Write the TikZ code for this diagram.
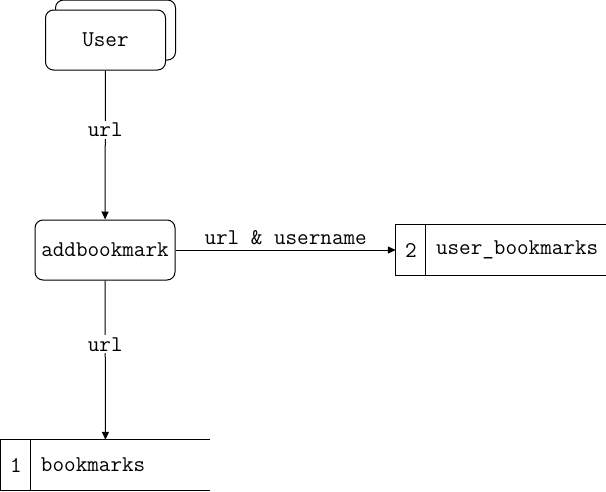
\documentclass[tikz,border=0pt]{standalone}
\usetikzlibrary{positioning, arrows.meta}

\begin{document}
\begin{tikzpicture}[x=1pt, y=-1pt,
      font=\ttfamily\fontsize{22.5}{26}\selectfont,
      proc/.style={draw, line width=1pt, rounded corners=8pt, fill=white,
                   minimum width=120pt, minimum height=60pt, inner sep=0pt},
      store/.style={minimum height=50pt, inner sep=0pt},
      edge/.style={line width=1pt},
      arr/.style={-{Triangle[length=8pt, width=7pt]}, line width=1pt},
      lbl/.style={fill=white, inner sep=2pt}]
    \useasboundingbox (0,0) rectangle (606,491);
    % external entity (stacked)
    \node[proc] (userback) at (115.5,30) {};
    \node[proc] (user) at (105.5,40) {User};
    % process
    \node[proc, minimum width=140pt] (add) at (105,250) {addbookmark};
    % data stores
    \node[store, minimum width=209pt] (bm) at (105.5,465) {};
    \node[store, minimum width=210pt] (ub) at (501,250) {};
    \draw[edge] (bm.north east) -- (bm.north west) -- (bm.south west) -- (bm.south east);
    \draw[edge] ([xshift=30pt]bm.north west) -- ([xshift=30pt]bm.south west);
    \draw[edge] (ub.north east) -- (ub.north west) -- (ub.south west) -- (ub.south east);
    \draw[edge] ([xshift=30pt]ub.north west) -- ([xshift=30pt]ub.south west);
    \node (bmnum) at ([xshift=15pt]bm.west) {1};
    \node[anchor=west, inner sep=0pt] (bmname) at ([xshift=40pt]bm.west) {bookmarks};
    \node (ubnum) at ([xshift=15pt]ub.west) {2};
    \node[anchor=west, inner sep=0pt] (ubname) at ([xshift=40pt]ub.west) {user\_bookmarks};
    % flows
    \draw[arr] (user) -- node[lbl, pos=0.4] {url} (add);
    \draw[arr] (add) -- node[lbl, pos=0.4] {url} (bm);
    \draw[arr] (add) -- node[above=1pt] {url \& username} (ub);
  \end{tikzpicture}
\end{document}
